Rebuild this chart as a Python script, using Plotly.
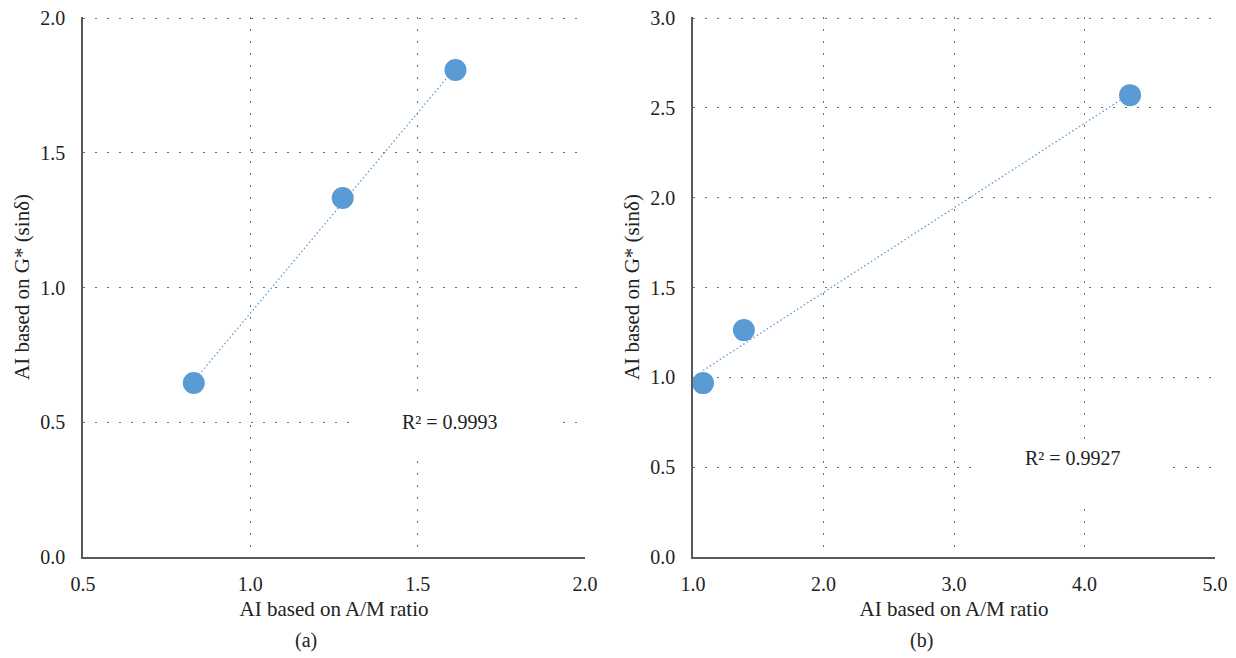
import numpy as np
import plotly.graph_objects as go
from plotly.subplots import make_subplots

# Panel (a)
a_x = [0.831, 1.276, 1.613]
a_y = [0.646, 1.332, 1.807]
a_r2 = "R² = 0.9993"
# Panel (b)
b_x = [1.077, 1.39, 4.349]
b_y = [0.968, 1.263, 2.571]
b_r2 = "R² = 0.9927"

x_title = "AI based on A/M ratio"
y_title = "AI based on G* (sinδ)"
a_xticks = [0.5, 1.0, 1.5, 2.0]
a_yticks = [0.0, 0.5, 1.0, 1.5, 2.0]
b_xticks = [1.0, 2.0, 3.0, 4.0, 5.0]
b_yticks = [0.0, 0.5, 1.0, 1.5, 2.0, 2.5, 3.0]

BLUE = "#5B9BD5"
FONT = "Liberation Serif, Times New Roman, serif"
W, H = 1236, 658

fig = make_subplots(rows=1, cols=2)

def add_panel(xs, ys, col):
    m, c = np.polyfit(xs, ys, 1)
    tx = [min(xs), max(xs)]
    ty = [m * v + c for v in tx]
    fig.add_trace(go.Scatter(x=tx, y=ty, mode="lines",
                             line=dict(color=BLUE, width=1.3, dash="1.5px,2.5px"),
                             showlegend=False, hoverinfo="skip"), row=1, col=col)
    fig.add_trace(go.Scatter(x=xs, y=ys, mode="markers",
                             marker=dict(color=BLUE, size=22, line=dict(width=0)),
                             showlegend=False, cliponaxis=False), row=1, col=col)

add_panel(a_x, a_y, 1)
add_panel(b_x, b_y, 2)

axis_common = dict(
    showline=True, linecolor="#595959", linewidth=1.5,
    showgrid=True, gridcolor="#6f6f6f", gridwidth=1, griddash="1.5px,10.5px",
    zeroline=False, ticks="", automargin=False,
    tickfont=dict(family=FONT, size=20, color="#222"),
    title_font=dict(family=FONT, size=21, color="#222"),
)

fig.update_layout(
    width=W, height=H, margin=dict(l=0, r=0, t=0, b=0, autoexpand=False),
    paper_bgcolor="white", plot_bgcolor="white",
    showlegend=False,
    xaxis=dict(domain=[83 / W, 585 / W], range=[0.5, 2.0], tickvals=a_xticks,
               ticktext=[f"{v:.1f}" for v in a_xticks], ticklabelstandoff=8,
               title=dict(text=x_title, standoff=8), **axis_common),
    yaxis=dict(domain=[1 - 557 / H, 1 - 17 / H], range=[0, 2.004], tickvals=a_yticks,
               ticktext=[f"{v:.1f}" for v in a_yticks], ticklabelstandoff=12,
               title=dict(text=y_title, standoff=5), **axis_common),
    xaxis2=dict(domain=[693 / W, 1215 / W], range=[1.0, 5.0], tickvals=b_xticks,
                ticktext=[f"{v:.1f}" for v in b_xticks], ticklabelstandoff=8,
                title=dict(text=x_title, standoff=8), **axis_common),
    yaxis2=dict(domain=[1 - 557 / H, 1 - 17 / H], range=[0, 3.006], tickvals=b_yticks,
                ticktext=[f"{v:.1f}" for v in b_yticks], ticklabelstandoff=12,
                title=dict(text=y_title, standoff=5), **axis_common),
)

# white label boxes that interrupt the gridlines (as in the source chart)
fig.add_shape(type="rect", xref="x", yref="y", x0=1.303, x1=1.909, y0=0.39, y1=0.59,
              fillcolor="white", line=dict(width=0), layer="between")
fig.add_shape(type="rect", xref="x2", yref="y2", x0=3.161, x1=4.67, y0=0.306, y1=0.651,
              fillcolor="white", line=dict(width=0), layer="between")

ann_font = dict(family=FONT, size=20, color="#222")
fig.add_annotation(x=1.596, y=0.501, xref="x", yref="y", text=a_r2, showarrow=False,
                   font=ann_font, xanchor="center", yanchor="middle")
fig.add_annotation(x=3.912, y=0.551, xref="x2", yref="y2", text=b_r2, showarrow=False,
                   font=ann_font, xanchor="center", yanchor="middle")

fig.add_annotation(x=306 / W, y=1 - 640 / H, xref="paper", yref="paper", text="(a)",
                   showarrow=False, font=ann_font, xanchor="center", yanchor="middle")
fig.add_annotation(x=921 / W, y=1 - 640 / H, xref="paper", yref="paper", text="(b)",
                   showarrow=False, font=ann_font, xanchor="center", yanchor="middle")

fig.write_html("out.html")
